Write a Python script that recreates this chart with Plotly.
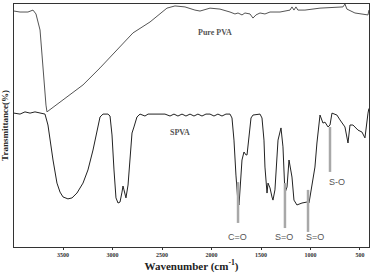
import plotly.graph_objects as go

# Pure PVA spectrum (wavenumber cm-1, transmittance a.u.)
pva_wn = [3995, 3934, 3854, 3803, 3773, 3752, 3732, 3712, 3692, 3672, 3662, 3581, 3460, 3298,
          3126, 2955, 2793, 2621, 2520, 2450, 2369, 2268, 2167, 2116, 2015, 1914, 1813, 1763,
          1732, 1692, 1662, 1611, 1581, 1551, 1510, 1460, 1409, 1308, 1207, 1187, 1167, 1147,
          1127, 1056, 904, 753, 672, 652, 632, 551, 480, 419, 410]
pva_t = [97.1, 96.7, 96.7, 97.5, 95.9, 92.6, 89.3, 79.0, 66.7, 58.4, 55.6, 58.0, 61.7, 66.7,
         73.7, 81.1, 88.1, 92.6, 95.9, 98.3, 99.2, 98.8, 97.5, 97.1, 98.3, 97.9, 96.7, 95.9,
         96.3, 95.5, 96.3, 95.9, 94.2, 95.5, 96.3, 95.9, 96.7, 96.7, 97.5, 98.8, 97.5, 98.8,
         97.5, 97.5, 98.3, 98.8, 98.8, 100.0, 97.9, 96.3, 95.9, 95.5, 97.5]

# SPVA spectrum
spva_wn = [3995, 3934, 3884, 3833, 3783, 3732, 3682, 3652, 3631, 3601, 3561, 3530, 3500, 3450,
           3409, 3359, 3298, 3248, 3197, 3157, 3126, 3096, 3046, 3025, 3005, 2985, 2965, 2944,
           2924, 2904, 2894, 2884, 2864, 2843, 2823, 2803, 2783, 2753, 2722, 2672, 2641, 2571,
           2470, 2419, 2379, 2339, 2298, 2258, 2217, 2177, 2137, 2096, 2056, 2015, 1975, 1935,
           1894, 1854, 1813, 1793, 1773, 1753, 1732, 1722, 1712, 1692, 1672, 1652, 1641, 1621,
           1601, 1581, 1510, 1490, 1470, 1460, 1439, 1429, 1409, 1389, 1379, 1359, 1328, 1298,
           1278, 1258, 1237, 1217, 1187, 1167, 1137, 1086, 1036, 1015, 985, 955, 935, 904, 874,
           854, 823, 803, 783, 733, 702, 652, 621, 601, 571, 520, 480, 450, 419, 410]
spva_t = [55.1, 54.7, 55.6, 55.1, 55.6, 55.1, 54.7, 50.2, 44.0, 35.8, 26.3, 22.6, 20.6, 19.8,
          20.2, 22.2, 26.3, 31.7, 39.9, 48.1, 53.5, 54.7, 54.7, 53.9, 46.1, 31.7, 20.2, 18.1,
          18.5, 22.6, 25.1, 23.5, 20.2, 25.5, 35.8, 46.9, 49.4, 53.5, 54.7, 53.9, 54.7, 54.7,
          54.7, 53.9, 54.7, 53.9, 54.7, 53.9, 54.7, 53.9, 54.7, 53.9, 54.7, 54.7, 53.9, 54.7,
          53.9, 54.7, 54.7, 53.1, 44.0, 29.6, 18.1, 17.3, 25.5, 35.8, 39.1, 37.9, 37.9, 46.1,
          53.1, 54.3, 54.7, 53.1, 44.0, 32.9, 22.2, 26.3, 24.3, 20.6, 19.3, 23.5, 44.0, 49.0,
          41.2, 22.2, 24.7, 35.8, 28.8, 19.3, 17.3, 18.1, 18.5, 18.1, 24.7, 32.9, 42.8, 54.3, 51.0,
          51.4, 49.4, 50.2, 55.1, 54.3, 52.3, 49.4, 42.8, 50.2, 50.2, 48.1, 47.3, 44.9, 55.1, 57.0]

# Band markers
band_labels = ["C=O", "S=O", "S=O", "S-O"]
band_wn = [1732, 1258, 1025, 803]
band_top = [26.7, 26.3, 23.5, 49.4]
band_bottom = [9.9, 7.8, 6.2, 30.9]
band_label_wn = [1742, 1268, 955, 733]
band_label_t = [4.1, 4.1, 4.1, 26.7]

tick_vals = [3500, 3000, 2500, 2000, 1500, 1000, 500]

fig = go.Figure()
fig.add_trace(go.Scatter(x=pva_wn, y=pva_t, mode="lines",
                         line=dict(color="#555555", width=1), showlegend=False))
fig.add_trace(go.Scatter(x=spva_wn, y=spva_t, mode="lines",
                         line=dict(color="#222222", width=1), showlegend=False))
for wn, top, bot in zip(band_wn, band_top, band_bottom):
    fig.add_trace(go.Scatter(x=[wn, wn], y=[bot, top], mode="lines",
                             line=dict(color="#a8a8a8", width=2.5), showlegend=False))

for lab, x, y in zip(band_labels, band_label_wn, band_label_t):
    fig.add_annotation(x=x, y=y, text=lab, showarrow=False,
                       font=dict(family="Liberation Sans", size=9, color="#555555"))

fig.add_annotation(x=1965, y=88.1, text="<b>Pure PVA</b>", showarrow=False,
                   font=dict(family="Liberation Serif", size=8, color="#555555"))
fig.add_annotation(x=2318, y=47.3, text="<b>SPVA</b>", showarrow=False,
                   font=dict(family="Liberation Serif", size=8, color="#555555"))

fig.update_layout(
    width=375, height=277,
    margin=dict(l=14, r=6, t=4, b=30),
    paper_bgcolor="white", plot_bgcolor="white",
    xaxis=dict(range=[3995, 409], tickvals=tick_vals, ticktext=[str(v) for v in tick_vals],
               showgrid=False, zeroline=False, showline=True, mirror=True,
               linecolor="#333333", linewidth=1, ticks="outside", ticklen=2,
               tickcolor="#333333",
               tickfont=dict(family="Liberation Serif", size=6, color="#333333", weight="bold"),
               title=dict(text="Wavenumber (cm<sup>-1</sup>)", standoff=3,
                          font=dict(family="Liberation Serif", size=11, color="#222222",
                                    weight="bold"))),
    yaxis=dict(range=[0, 100], showticklabels=False, showgrid=False, zeroline=False,
               showline=True, mirror=True, linecolor="#333333", linewidth=1, ticks="",
               title=dict(text="Transmittance(%)", standoff=2,
                          font=dict(family="Liberation Serif", size=9, color="#222222",
                                    weight="bold"))),
)

fig.write_html("out.html", config={"displayModeBar": False},
               post_script="document.body.style.margin='0';document.body.style.overflow='hidden';")
